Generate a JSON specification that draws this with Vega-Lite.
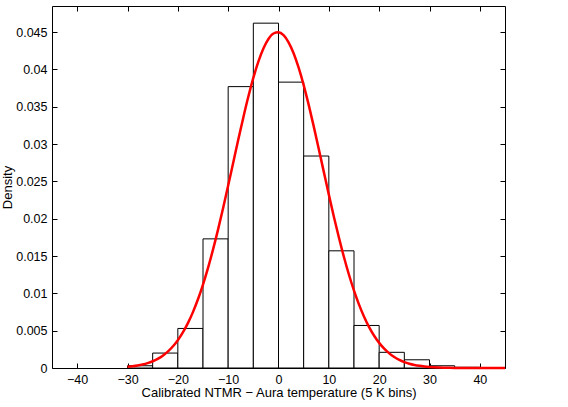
{
  "$schema": "https://vega.github.io/schema/vega-lite/v6.json",
  "width": 453,
  "height": 362,
  "autosize": {"type": "none"},
  "padding": {"left": 52, "top": 6, "right": 63, "bottom": 39},
  "background": "white",
  "config": {
    "view": {"stroke": null},
    "axis": {
      "domainColor": "black",
      "domainWidth": 1,
      "tickColor": "black",
      "tickWidth": 1,
      "tickSize": -5,
      "labelColor": "black",
      "titleColor": "black",
      "labelFont": "Liberation Sans",
      "titleFont": "Liberation Sans",
      "labelFontSize": 12.5,
      "titleFontSize": 13,
      "titleFontWeight": "normal",
      "grid": false
    }
  },
  "datasets": {
    "bins": [
      {"lo": -30, "hi": -25, "density": 0.0003},
      {"lo": -25, "hi": -20, "density": 0.0020},
      {"lo": -20, "hi": -15, "density": 0.0053},
      {"lo": -15, "hi": -10, "density": 0.0173},
      {"lo": -10, "hi": -5, "density": 0.0377},
      {"lo": -5, "hi": 0, "density": 0.0462},
      {"lo": 0, "hi": 5, "density": 0.0383},
      {"lo": 5, "hi": 10, "density": 0.0284},
      {"lo": 10, "hi": 15, "density": 0.0157},
      {"lo": 15, "hi": 20, "density": 0.0057},
      {"lo": 20, "hi": 25, "density": 0.0021},
      {"lo": 25, "hi": 30, "density": 0.0011},
      {"lo": 30, "hi": 35, "density": 0.0003},
      {"lo": 35, "hi": 40, "density": 0.0001},
      {"lo": 40, "hi": 45, "density": 0.0}
    ],
    "fit": [
      {"t": -30, "density": 0.000159},
      {"t": -29, "density": 0.000231},
      {"t": -28, "density": 0.000331},
      {"t": -27, "density": 0.000469},
      {"t": -26, "density": 0.000655},
      {"t": -25, "density": 0.000903},
      {"t": -24, "density": 0.001230},
      {"t": -23, "density": 0.001654},
      {"t": -22, "density": 0.002196},
      {"t": -21, "density": 0.002878},
      {"t": -20, "density": 0.003726},
      {"t": -19, "density": 0.004762},
      {"t": -18, "density": 0.006008},
      {"t": -17, "density": 0.007486},
      {"t": -16, "density": 0.009209},
      {"t": -15, "density": 0.011186},
      {"t": -14, "density": 0.013415},
      {"t": -13, "density": 0.015887},
      {"t": -12, "density": 0.018574},
      {"t": -11, "density": 0.021443},
      {"t": -10, "density": 0.024442},
      {"t": -9, "density": 0.027508},
      {"t": -8, "density": 0.030569},
      {"t": -7, "density": 0.033541},
      {"t": -6, "density": 0.036337},
      {"t": -5, "density": 0.038872},
      {"t": -4, "density": 0.041054},
      {"t": -3, "density": 0.042813},
      {"t": -2, "density": 0.044083},
      {"t": -1, "density": 0.044817},
      {"t": 0, "density": 0.044989},
      {"t": 1, "density": 0.044590},
      {"t": 2, "density": 0.043637},
      {"t": 3, "density": 0.042165},
      {"t": 4, "density": 0.040228},
      {"t": 5, "density": 0.037897},
      {"t": 6, "density": 0.035247},
      {"t": 7, "density": 0.032368},
      {"t": 8, "density": 0.029352},
      {"t": 9, "density": 0.026278},
      {"t": 10, "density": 0.023230},
      {"t": 11, "density": 0.020277},
      {"t": 12, "density": 0.017474},
      {"t": 13, "density": 0.014870},
      {"t": 14, "density": 0.012493},
      {"t": 15, "density": 0.010364},
      {"t": 16, "density": 0.008489},
      {"t": 17, "density": 0.006867},
      {"t": 18, "density": 0.005483},
      {"t": 19, "density": 0.004323},
      {"t": 20, "density": 0.003365},
      {"t": 21, "density": 0.002587},
      {"t": 22, "density": 0.001963},
      {"t": 23, "density": 0.001471},
      {"t": 24, "density": 0.001089},
      {"t": 25, "density": 0.000795},
      {"t": 26, "density": 0.000574},
      {"t": 27, "density": 0.000409},
      {"t": 28, "density": 0.000287},
      {"t": 29, "density": 0.000199},
      {"t": 30, "density": 0.000137},
      {"t": 32, "density": 0.000062},
      {"t": 34, "density": 0.000027},
      {"t": 36, "density": 0.000011},
      {"t": 38, "density": 0.000004},
      {"t": 40, "density": 0.000002},
      {"t": 42, "density": 0.0000005},
      {"t": 45, "density": 0.0000001}
    ]
  },
  "layer": [
    {
      "data": {"name": "bins"},
      "mark": {"type": "rect", "fill": "white", "stroke": "black", "strokeWidth": 1},
      "encoding": {
        "x": {
          "field": "lo",
          "type": "quantitative",
          "scale": {"domain": [-45, 45], "nice": false, "zero": false},
          "axis": {
            "orient": "bottom",
            "values": [-40, -30, -20, -10, 0, 10, 20, 30, 40],
            "labelPadding": 10,
            "title": "Calibrated NTMR − Aura temperature (5 K bins)",
            "titlePadding": 1
          }
        },
        "x2": {"field": "hi"},
        "y": {
          "field": "density",
          "type": "quantitative",
          "scale": {"domain": [0, 0.0485], "nice": false},
          "axis": {
            "orient": "left",
            "values": [0, 0.005, 0.01, 0.015, 0.02, 0.025, 0.03, 0.035, 0.04, 0.045],
            "format": "~f",
            "labelPadding": 10,
            "title": "Density",
            "titlePadding": 1
          }
        },
        "y2": {"datum": 0}
      }
    },
    {
      "data": {"name": "fit"},
      "mark": {"type": "line", "color": "#ff0000", "strokeWidth": 2.5, "interpolate": "monotone"},
      "encoding": {
        "x": {
          "field": "t",
          "type": "quantitative",
          "axis": {
            "orient": "top",
            "values": [-40, -30, -20, -10, 0, 10, 20, 30, 40],
            "labels": false,
            "title": null
          }
        },
        "y": {
          "field": "density",
          "type": "quantitative",
          "axis": {
            "orient": "right",
            "values": [0, 0.005, 0.01, 0.015, 0.02, 0.025, 0.03, 0.035, 0.04, 0.045],
            "labels": false,
            "title": null
          }
        }
      }
    }
  ],
  "resolve": {"axis": {"x": "independent", "y": "independent"}}
}
